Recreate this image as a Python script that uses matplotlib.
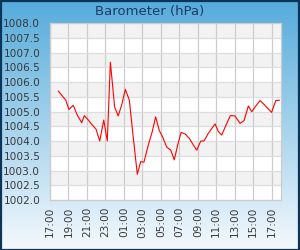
import matplotlib
matplotlib.use("Agg")
import matplotlib.pyplot as plt
import numpy as np
from matplotlib.patches import Rectangle

# readings (clock time, hPa)
times = ["17:54", "18:42", "19:03", "19:31", "19:57", "20:26", "20:43", "21:09",
         "21:33", "21:59", "22:23", "22:49", "23:12", "23:32", "00:00", "00:23",
         "00:47", "01:09", "01:35", "01:59", "02:27", "02:49", "03:10", "03:38",
         "04:04", "04:26", "04:50", "05:12", "05:38", "06:04", "06:27", "06:49",
         "07:11", "07:37", "08:05", "08:31", "08:53", "09:19", "09:40", "10:08",
         "10:30", "10:52", "11:13", "11:35", "12:03", "12:31", "13:01", "13:34",
         "14:00", "14:28", "14:50", "15:17", "15:44", "16:10", "16:35", "16:59",
         "17:26", "17:49"]
pressure = [1005.69, 1005.39, 1005.07, 1005.21, 1004.88, 1004.62, 1004.86, 1004.71,
            1004.55, 1004.40, 1004.00, 1004.71, 1004.00, 1006.67, 1005.14, 1004.85,
            1005.25, 1005.75, 1005.39, 1004.20, 1002.87, 1003.30, 1003.28, 1003.86,
            1004.32, 1004.82, 1004.35, 1004.13, 1003.79, 1003.69, 1003.36, 1003.86,
            1004.29, 1004.24, 1004.09, 1003.86, 1003.69, 1004.00, 1004.00, 1004.26,
            1004.42, 1004.58, 1004.32, 1004.20, 1004.54, 1004.86, 1004.85, 1004.60,
            1004.69, 1005.19, 1004.99, 1005.19, 1005.37, 1005.24, 1005.10, 1004.97,
            1005.37, 1005.38]
tick_labels = ["17:00", "19:00", "21:00", "23:00", "01:00", "03:00", "05:00",
               "07:00", "09:00", "11:00", "13:00", "15:00", "17:00"]
y_ticks = np.arange(1002.0, 1008.01, 0.5)

# hours since 17:00 on the first day
hrs = []
day = 0
prev = -1
for s in times:
    h, m = s.split(":")
    v = int(h) + int(m) / 60 - 17
    if v < 0:
        v += 24
    if v + day < prev:
        day += 24
    hrs.append(v + day)
    prev = v + day

fig = plt.figure(figsize=(3, 2.5), dpi=100)

# gradient background
bg = fig.add_axes([0, 0, 1, 1], zorder=-10)
grad = np.linspace(0, 1, 256).reshape(-1, 1)
top = np.array([0x55, 0xab, 0xdb]) / 255
bot = np.array([0xf4, 0xf9, 0xfd]) / 255
img = top + (bot - top) * grad[..., None] ** 1.0
bg.imshow(img, aspect="auto", extent=[0, 1, 0, 1])
bg.set_axis_off()
fig.patches.append(Rectangle((0.002, 0.002), 0.996, 0.996, transform=fig.transFigure,
                             fill=False, edgecolor="#0b3558", lw=1.6))

fig.text(0.5, 0.952, "Barometer (hPa)", ha="center", va="center",
         fontsize=9.5, color="#1b3c62")

ax = fig.add_axes([50 / 300, 0.2, 231 / 300, 177 / 250])
ax.set_facecolor("white")
for y0 in y_ticks[:-1]:
    if round(y0 * 2) % 2 == 1:
        ax.axhspan(y0, y0 + 0.5, color="#f2f2f2", lw=0, zorder=0)

ax.plot(hrs, pressure, color="#ff0000", lw=0.8, zorder=3)

ax.set_xlim(0, 25)
ax.set_ylim(1002, 1008)
ax.set_yticks(y_ticks)
ax.set_yticklabels([f"{v:.1f}" for v in y_ticks])
ax.set_xticks(np.arange(0, 25, 2))
ax.set_xticklabels(tick_labels, rotation=90)
ax.tick_params(length=0, labelsize=7.6, colors="#3a3a3a")
ax.tick_params(axis="y", pad=7)
ax.tick_params(axis="x", pad=5)
ax.grid(axis="x", color="#cccccc", lw=0.9, zorder=1)
ax.grid(axis="y", color="#dddddd", lw=0.9, zorder=1)
ax.set_axisbelow(True)
for s in ax.spines.values():
    s.set_color("#cccccc")
    s.set_linewidth(0.9)

fig.savefig("out.png", dpi=100)
